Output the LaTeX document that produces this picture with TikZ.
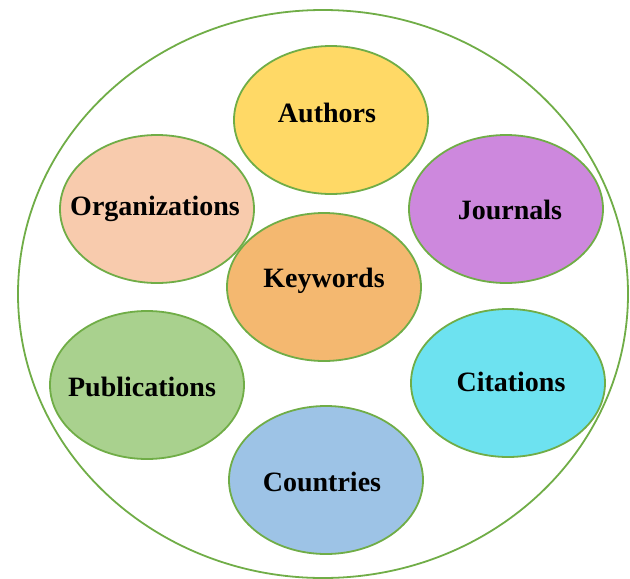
\documentclass[tikz,border=0pt]{standalone}
\usepackage{fontspec}
\setmainfont{Liberation Serif}
\usepackage{tikz}
\usetikzlibrary{shapes.geometric}

\definecolor{rim}{HTML}{70AD47}
\definecolor{authorsfill}{HTML}{FFD966}
\definecolor{orgfill}{HTML}{F8CBAD}
\definecolor{journalfill}{HTML}{CD88DD}
\definecolor{keywordfill}{HTML}{F4B870}
\definecolor{pubfill}{HTML}{A9D18E}
\definecolor{citefill}{HTML}{6DE2F0}
\definecolor{countryfill}{HTML}{9DC3E6}

\begin{document}
\begin{tikzpicture}[x=1pt,y=-1pt,
    bubble/.style={ellipse, draw=rim, line width=1.8pt, minimum width=194pt, minimum height=148pt, inner sep=0pt},
    font=\bfseries\fontsize{28}{33}\selectfont]
        \useasboundingbox (0,0) rectangle (630,579);
        \draw[rim, line width=1.8pt] (323,294) ellipse [x radius=305, y radius=284];
        \node[bubble, fill=authorsfill] (authors) at (331,120) {};
        \node[bubble, fill=orgfill] (orgs) at (157,209) {};
        \node[bubble, fill=journalfill] (journals) at (506,209) {};
        \node[bubble, fill=keywordfill] (keywords) at (324,287) {};
        \node[bubble, fill=pubfill] (pubs) at (147,385) {};
        \node[bubble, fill=citefill] (cites) at (508,383) {};
        \node[bubble, fill=countryfill] (countries) at (326,480) {};
        \node (authorstext) at (327,113) {Authors};
        \node (orgstext) at (155,209) {Organizations};
        \node (journalstext) at (510,210) {Journals};
        \node (keywordstext) at (324,281) {Keywords};
        \node (pubstext) at (142,387) {Publications};
        \node (citestext) at (511,382) {Citations};
        \node (countriestext) at (322,482) {Countries};
      \end{tikzpicture}
\end{document}
